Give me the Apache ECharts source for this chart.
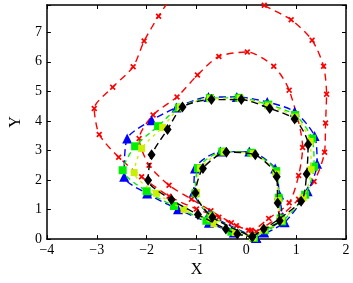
<!DOCTYPE html>
<html>
<head>
<meta charset="utf-8">
<script src="https://cdn.jsdelivr.net/npm/echarts@6/dist/echarts.min.js"></script>
<style>html,body{margin:0;padding:0;background:#fff}#c{width:353px;height:283px}</style>
</head>
<body>
<div id="c"></div>
<script>
const xTicks = [-4, -3, -2, -1, 0, 1, 2];
const yTicks = [0, 1, 2, 3, 4, 5, 6, 7];

const redPath = [
  [0.20,0.25],[0.70,0.80],[1.05,1.35],[1.36,1.95],[1.57,2.94],[1.59,3.93],[1.61,4.90],[1.55,5.85],
  [1.32,6.73],[0.90,7.42],[0.36,7.91],[-0.10,8.40],[-0.60,8.80],[-1.15,8.70],[-1.55,8.05],[-1.76,7.54],
  [-2.05,6.70],[-2.27,5.83],[-2.68,5.14],[-3.05,4.42],[-2.95,3.54],[-2.56,2.77],[-2.10,2.11],[-1.55,1.45],
  [-1.00,1.02],[-0.55,0.74],[-0.20,0.45],[0.10,0.30],
  [0.45,0.70],[0.86,1.23],[1.05,2.15],[1.13,3.10],[0.86,5.04],[0.55,5.85],[0.02,6.33],[-0.55,6.18],
  [-0.98,5.55],[-1.39,4.81],[-1.87,4.20],[-2.15,3.40],[-1.95,2.50],[-1.55,1.82],[-1.10,1.35],[-0.71,0.96],
  [-0.30,0.55],[0.05,0.30]
];

const bluePath = [
  [0.20,0.04],[0.77,0.57],[1.23,1.62],[1.42,2.55],[1.37,3.49],[0.97,4.31],[0.42,4.64],[-0.19,4.81],
  [-0.76,4.81],[-1.40,4.45],[-1.90,4.02],[-2.39,3.40],[-2.45,2.11],[-1.99,1.54],[-1.37,1.01],[-0.75,0.55],
  [-0.25,0.22],[0.20,0.04],
  [-0.75,0.85],[-1.05,1.60],[-1.03,2.39],[-0.52,2.96],[0.06,2.96],[0.58,2.39],[0.66,1.51],[0.72,0.75],
  [0.36,0.22],[0.20,0.04]
];

const greenPath = [
  [0.15,0.05],[0.72,0.60],[1.18,1.50],[1.36,2.45],[1.32,3.40],[0.98,4.20],[0.44,4.55],[-0.15,4.78],
  [-0.73,4.77],[-1.35,4.45],[-1.77,3.82],[-2.23,3.14],[-2.48,2.33],[-2.00,1.62],[-1.45,1.12],[-0.80,0.62],
  [-0.30,0.25],[0.15,0.05],
  [-0.72,0.80],[-1.02,1.55],[-0.97,2.40],[-0.48,2.96],[0.10,2.92],[0.60,2.30],[0.65,1.40],[0.69,0.70],
  [0.37,0.30],[0.15,0.05]
];

const yellowPath = [
  [0.13,0.06],[0.70,0.62],[1.14,1.40],[1.30,2.35],[1.28,3.30],[0.98,4.13],[0.45,4.50],[-0.12,4.76],
  [-0.72,4.75],[-1.32,4.46],[-1.68,3.78],[-2.10,3.07],[-2.25,2.25],[-1.80,1.55],[-1.25,1.00],[-0.65,0.52],
  [-0.22,0.22],[0.13,0.06],
  [-0.70,0.78],[-1.00,1.57],[-0.92,2.40],[-0.44,2.95],[0.14,2.89],[0.60,2.20],[0.64,1.30],[0.68,0.65],
  [0.36,0.33],[0.13,0.06]
];

const blackPath = [
  [0.12,0.08],[1.10,1.28],[1.21,2.20],[1.24,3.20],[0.97,4.06],[0.47,4.42],[-0.10,4.72],[-0.70,4.72],
  [-1.28,4.47],[-1.58,3.71],[-1.90,2.85],[-1.97,1.99],[-1.50,1.33],[-0.97,0.83],[-0.41,0.34],[-0.18,0.17],
  [0.12,0.08],
  [-0.68,0.74],[-1.02,1.56],[-0.87,2.39],[-0.40,2.94],[0.18,2.85],[0.61,2.11],[0.63,1.22],[0.67,0.62],
  [0.35,0.34],[0.12,0.08]
];

const FONT = 'Liberation Serif';
const fmt = v => (Number.isInteger(v) ? (v < 0 ? '\u2212' + Math.abs(v) : String(v)) : '');
const xSymbol = 'path://M2,0L5,3L8,0L10,2L7,5L10,8L8,10L5,7L2,10L0,8L3,5L0,2Z';

function axisBase(extra) {
  return Object.assign({
    type: 'value',
    axisLine: { show: true, onZero: false, lineStyle: { color: '#000', width: 1.5 } },
    axisTick: { show: true, inside: true, length: 4, lineStyle: { color: '#000', width: 1 } },
    splitLine: { show: false },
    axisLabel: { color: '#000', fontFamily: FONT, fontSize: 14, formatter: fmt }
  }, extra);
}

function lineSeries(data, color, symbol, size, dash, z) {
  return {
    type: 'line', data: data, color: color, symbol: symbol, symbolSize: size,
    showAllSymbol: true, clip: true, z: z, animation: false, smooth: 0.25,
    lineStyle: { color: color, width: 1.4, type: dash },
    itemStyle: { color: color, borderWidth: 0 }
  };
}

const chart = echarts.init(document.getElementById('c'), null, { renderer: 'canvas' });
chart.setOption({
  animation: false,
  grid: { left: 35, right: 7, top: 5, bottom: 37 },
  xAxis: [
    axisBase({ min: xTicks[0], max: xTicks[xTicks.length - 1], interval: 1, position: 'bottom',
      name: 'X', nameLocation: 'middle', nameGap: 21,
      nameTextStyle: { color: '#000', fontFamily: FONT, fontSize: 16 },
      axisLabel: { color: '#000', fontFamily: FONT, fontSize: 14, formatter: fmt, margin: 4 } }),
    axisBase({ min: xTicks[0], max: xTicks[xTicks.length - 1], interval: 1, position: 'top',
      axisLabel: { show: false } })
  ],
  yAxis: [
    axisBase({ min: yTicks[0], max: 7.92, interval: 1, position: 'left',
      name: 'Y', nameLocation: 'middle', nameGap: 20,
      nameTextStyle: { color: '#000', fontFamily: FONT, fontSize: 16 },
      axisLabel: { color: '#000', fontFamily: FONT, fontSize: 14, formatter: fmt, margin: 5 } }),
    axisBase({ min: yTicks[0], max: 7.92, interval: 1, position: 'right',
      axisLabel: { show: false } })
  ],
  series: [
    lineSeries(redPath, '#ff0000', xSymbol, 6, [7, 5], 2),
    lineSeries(bluePath, '#0000ff', 'triangle', 10, [7, 4], 3),
    lineSeries(greenPath, '#00ee00', 'rect', 8, [5, 4], 4),
    lineSeries(yellowPath, '#c8f000', 'rect', 7, [3, 4], 5),
    lineSeries(blackPath, '#000000', 'diamond', [8, 11], [7, 4], 6)
  ]
});
</script>
</body>
</html>
